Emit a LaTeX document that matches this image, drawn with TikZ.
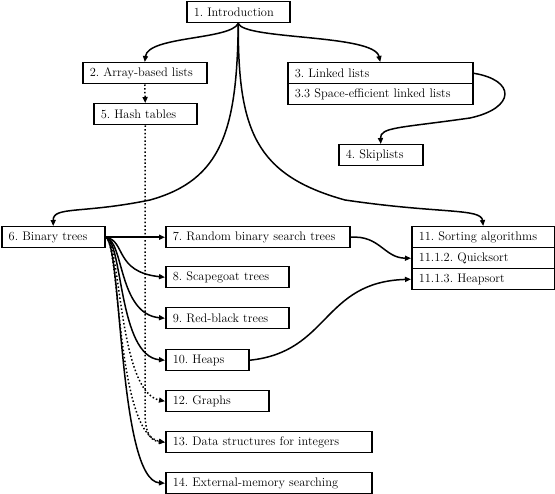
\documentclass[tikz,border=0pt]{standalone}
\usetikzlibrary{arrows.meta,positioning}
\begin{document}
\frenchspacing
\begin{tikzpicture}[x=1pt, y=-1pt]
% Define styles
\tikzstyle{topic} = [rectangle, draw, line width=1.5pt, anchor=north west, align=left, inner xsep=7pt, inner ysep=0pt, minimum height=21pt, font=\fontsize{12.4}{14}\selectfont]
\tikzstyle{dep} = [line width=1.5pt, ->, >={Triangle[length=6pt,width=5pt]}]
\tikzstyle{weakdep} = [dep, dash pattern=on 1.5pt off 2.2pt]

\useasboundingbox (0,0) rectangle (555,494);

% Top part
\node[topic, text width=89pt] (intro) at (186,1) {1. Introduction};
\node[topic, text width=110pt] (array) at (82,62) {2. Array-based lists};
\node[topic, text width=89pt] (hash) at (93,103) {5. Hash tables};
\node[topic, text width=171pt] (linked) at (287,62) {3. Linked lists};
\node[topic, text width=171pt, below=-1.5pt of linked] (spacelinked) {3.3 Space-efficient linked lists};
\node[topic, text width=70pt] (skip) at (338,144) {4. Skiplists};

% Trees
\node[topic, text width=89pt] (binary) at (1,226) {6. Binary trees};
\node[topic, text width=170pt] (random) at (165,226) {7. Random binary search trees};
\node[topic, text width=109pt] (scapegoat) at (165,266) {8. Scapegoat trees};
\node[topic, text width=109pt] (redblack) at (165,307) {9. Red-black trees};
\node[topic, text width=69pt] (heaps) at (165,349) {10. Heaps};
\node[topic, text width=89pt] (graphs) at (165,390) {12. Graphs};
\node[topic, text width=192pt] (integers) at (165,431) {13. Data structures for integers};
\node[topic, text width=192pt] (external) at (165,472) {14. External-memory searching};

% Sorting
\node[topic, text width=129pt] (sorting) at (411,226) {11. Sorting algorithms};
\node[topic, text width=129pt, below=-1.5pt of sorting] (quick) {11.1.2. Quicksort};
\node[topic, text width=129pt, below=-1.5pt of quick] (heapsort) {11.1.3. Heapsort};

% Connections
\draw[dep] (intro.south) .. controls (230,40) and (148,36) .. (array.north);
\draw[dep] (intro.south) .. controls (245,40) and (374,34) .. (linked.north);
\draw[dep] (intro.south) .. controls (237,130) and (222,180) .. (150,200) .. controls (82,214) and (53,206) .. (binary.north);
\draw[dep] (intro.south) .. controls (238,130) and (255,175) .. (345,200) .. controls (440,214) and (481,208) .. (sorting.north);
\draw[dep] (linked.east) .. controls (516,80) and (516,108) .. (470,118) .. controls (400,128) and (380,127) .. (skip.north);
\draw[weakdep] (array.south) -- (hash.north);
\draw[weakdep] (hash.south) -- (145,412) .. controls (145,436) and (152,441) .. (integers.west);

\draw[dep] (binary.east) -- (random.west);
\draw[dep] (binary.east) .. controls (126,240) and (114,272) .. (scapegoat.west);
\draw[dep] (binary.east) .. controls (124,240) and (118,314) .. (redblack.west);
\draw[dep] (binary.east) .. controls (123,240) and (118,356) .. (heaps.west);
\draw[weakdep] (binary.east) .. controls (121,240) and (118,392) .. (graphs.west);
\draw[weakdep] (binary.east) .. controls (120,240) and (116,434) .. (integers.west);
\draw[dep] (binary.east) .. controls (122,240) and (118,480) .. (external.west);

\draw[dep] (random.east) .. controls (380,235) and (384,258) .. (quick.west);
\draw[dep] (heaps.east) .. controls (330,352) and (322,282) .. (heapsort.west);

\end{tikzpicture}
\end{document}
